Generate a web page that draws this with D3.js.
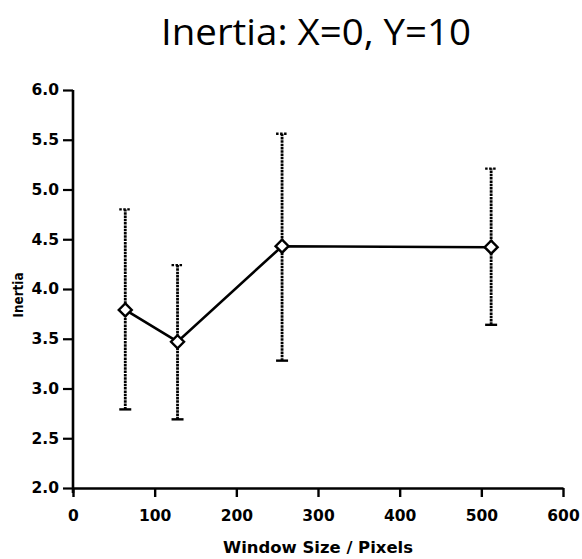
<!DOCTYPE html>
<html>
<head>
<meta charset="utf-8">
<script src="https://cdn.jsdelivr.net/npm/d3@7.9.0/dist/d3.min.js"></script>
<style>
  body { margin: 0; background: #fff; }
  svg { display: block; }
  .tick text { font-family: "DejaVu Sans", sans-serif; font-weight: bold; font-size: 15.5px; fill: #000; }
  .axis-label { font-family: "DejaVu Sans", sans-serif; font-weight: bold; fill: #000; }
</style>
</head>
<body>
<div id="chart"></div>
<script>
// Window size (pixels) and mean inertia with error bar ends
const windowSizes = [64, 128, 256, 512];
const inertiaMean = [3.79, 3.47, 4.43, 4.42];
const inertiaLow = [2.79, 2.69, 3.28, 3.64];
const inertiaHigh = [4.80, 4.24, 5.56, 5.21];
const xTicks = [0, 100, 200, 300, 400, 500, 600];
const yTicks = [2.0, 2.5, 3.0, 3.5, 4.0, 4.5, 5.0, 5.5, 6.0];

const data = windowSizes.map((w, i) => ({
  x: w, y: inertiaMean[i], lo: inertiaLow[i], hi: inertiaHigh[i]
}));

const W = 582, H = 559;
const margin = { top: 90, right: 19, bottom: 71, left: 73 };
const width = W - margin.left - margin.right;
const height = H - margin.top - margin.bottom;

const svg = d3.select("#chart").append("svg")
  .attr("width", W).attr("height", H);

const g = svg.append("g")
  .attr("transform", `translate(${margin.left},${margin.top})`);

const xScale = d3.scaleLinear().domain([0, 600]).range([0, width]);
const yScale = d3.scaleLinear().domain([2, 6]).range([height, 0]);

// Title
svg.append("text")
  .attr("x", 316).attr("y", 45)
  .attr("text-anchor", "middle")
  .style("font-family", "'Open Sans', sans-serif")
  .style("font-weight", "500")
  .style("font-size", "37px")
  .attr("textLength", 310)
  .attr("lengthAdjust", "spacingAndGlyphs")
  .text("Inertia: X=0, Y=10");

// Y axis
const yAxis = g.append("g")
  .call(d3.axisLeft(yScale).tickValues(yTicks).tickFormat(d3.format(".1f"))
    .tickSize(10).tickSizeOuter(0).tickPadding(4));
yAxis.select(".domain").attr("stroke-width", 2.6).attr("d", `M0,${height + 5}V0`);
yAxis.selectAll(".tick line").attr("stroke-width", 2.2);

// X axis
const xAxis = g.append("g")
  .attr("transform", `translate(0,${height})`)
  .call(d3.axisBottom(xScale).tickValues(xTicks).tickFormat(d3.format("d"))
    .tickSize(9).tickSizeOuter(0).tickPadding(13));
xAxis.select(".domain").attr("stroke-width", 2.6);
xAxis.selectAll(".tick line").attr("stroke-width", 2.4);

// Axis labels
svg.append("text")
  .attr("class", "axis-label")
  .attr("x", 318).attr("y", 553)
  .attr("text-anchor", "middle")
  .style("font-size", "16px")
  .attr("textLength", 190)
  .attr("lengthAdjust", "spacingAndGlyphs")
  .text("Window Size / Pixels");

svg.append("text")
  .attr("class", "axis-label")
  .attr("transform", "rotate(-90)")
  .attr("x", -295).attr("y", 23)
  .attr("text-anchor", "middle")
  .style("font-size", "14px")
  .attr("textLength", 45)
  .attr("lengthAdjust", "spacingAndGlyphs")
  .text("Inertia");

// Error bars
const capW = 6;
const bars = g.selectAll(".err").data(data).enter().append("g").attr("class", "err");
bars.append("line")
  .attr("x1", d => xScale(d.x)).attr("x2", d => xScale(d.x))
  .attr("y1", d => yScale(d.lo)).attr("y2", d => yScale(d.hi))
  .attr("stroke", "#000").attr("stroke-width", 2.8)
  .attr("stroke-dasharray", "2.5,0.8");
bars.append("line")
  .attr("x1", d => xScale(d.x) - capW).attr("x2", d => xScale(d.x) + capW)
  .attr("y1", d => yScale(d.hi)).attr("y2", d => yScale(d.hi))
  .attr("stroke", "#000").attr("stroke-width", 2.4)
  .attr("stroke-dasharray", "2.5,1.5");
bars.append("line")
  .attr("x1", d => xScale(d.x) - capW).attr("x2", d => xScale(d.x) + capW)
  .attr("y1", d => yScale(d.lo)).attr("y2", d => yScale(d.lo))
  .attr("stroke", "#000").attr("stroke-width", 2.4);

// Mean line
const line = d3.line().x(d => xScale(d.x)).y(d => yScale(d.y));
g.append("path")
  .datum(data)
  .attr("d", line)
  .attr("fill", "none")
  .attr("stroke", "#000")
  .attr("stroke-width", 2.6);

// Diamond markers
const r = 6.5;
g.selectAll(".pt").data(data).enter().append("path")
  .attr("class", "pt")
  .attr("transform", d => `translate(${xScale(d.x)},${yScale(d.y)})`)
  .attr("d", `M0,${-r}L${r},0L0,${r}L${-r},0Z`)
  .attr("fill", "#fff")
  .attr("stroke", "#000")
  .attr("stroke-width", 2.4);
</script>
</body>
</html>
